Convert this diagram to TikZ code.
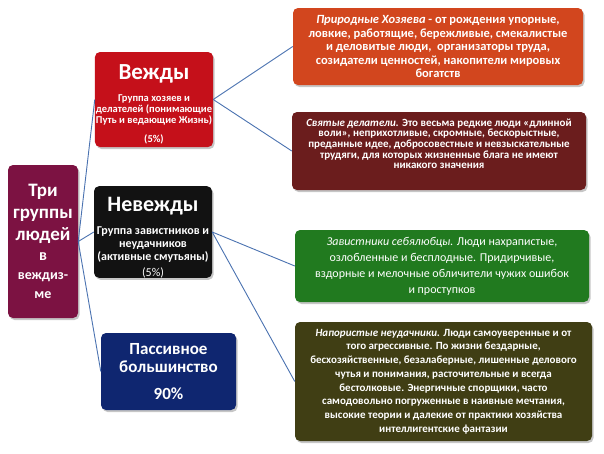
\documentclass[tikz,border=0pt]{standalone}
\usepackage{fontspec}
\setmainfont{Carlito}
\usetikzlibrary{positioning,shadows}
\definecolor{rootred}{HTML}{7C1242}
\definecolor{vezred}{HTML}{C5101A}
\definecolor{nevblack}{HTML}{121212}
\definecolor{passblue}{HTML}{0F2670}
\definecolor{descorange}{HTML}{D2461E}
\definecolor{descbrown}{HTML}{6B1D1D}
\definecolor{descgreen}{HTML}{217A1F}
\definecolor{descolive}{HTML}{403E14}
\definecolor{linkblue}{HTML}{4A72B0}
\tikzset{
  grparr/.style={draw=linkblue, line width=0.9pt},
  grpnode/.style={rounded corners=5pt, align=center, inner sep=1pt, text=white,
    drop shadow={opacity=0.45, shadow xshift=1.5pt, shadow yshift=-2pt}},
}

\begin{document}
\begin{tikzpicture}[
  x=1pt, y=-1pt,
  descbox/.style={grpnode, font=\bfseries\fontsize{11}{13.2}\selectfont},
]
  \useasboundingbox (0,0) rectangle (604,453);

  % left column
  \node[grpnode, fill=rootred, minimum width=70pt, minimum height=153pt,
    font=\bfseries\fontsize{14}{19}\selectfont] (root) at (43,241.5)
    {{\fontsize{19}{22}\selectfont Три}\\[3pt]{\fontsize{19}{22}\selectfont группы}\\[3pt]{\fontsize{19}{22}\selectfont людей}\\[1pt]{\fontsize{16}{19}\selectfont в}\\веждиз-\\ме};

  % middle column
  \node[grpnode, fill=vezred, minimum width=118pt, minimum height=95pt,
    font=\bfseries\fontsize{10.5}{11}\selectfont] (vez) at (154,99.5)
    {{\fontsize{23}{26}\selectfont\rule{0pt}{24pt}Вежды}\\[11pt]Группа хозяев и\\делателей (понимающие\\Путь и ведающие Жизнь)\\[8pt](5\%)};
  \node[grpnode, fill=nevblack, minimum width=118pt, minimum height=90pt, inner sep=0pt,
    font=\bfseries\fontsize{12}{13}\selectfont] (nev) at (153,232)
    {{\fontsize{22}{25}\selectfont\rule{0pt}{25pt}Невежды}\\[10pt]Группа завистников и\\неудачников\\(активные смутьяны)\\[3pt]{\mdseries (5\%)}};
  \node[grpnode, fill=passblue, minimum width=135pt, minimum height=77pt,
    font=\bfseries\fontsize{17}{18}\selectfont] (pass) at (168.5,371.5)
    {Пассивное\\большинство\\[9pt]90\%};

  % right column
  \node[descbox, fill=descorange, minimum width=290pt, minimum height=77pt,
    font=\bfseries\fontsize{12.5}{13.5}\selectfont] (hoz) at (438,46.5)
    {\textit{Природные Хозяева} - от рождения упорные,\\ловкие, работящие, бережливые, смекалистые\\и деловитые люди, \ организаторы труда,\\созидатели ценностей, накопители мировых\\богатств};
  \node[descbox, fill=descbrown, minimum width=294pt, minimum height=78pt,
    font=\bfseries\fontsize{11}{10.7}\selectfont] (svy) at (439,151)
    {\textit{Святые делатели.} Это весьма редкие люди «длинной\\воли», неприхотливые, скромные, бескорыстные,\\преданные идее, добросовестные и невзыскательные\\трудяги, для которых жизненные блага не имеют\\никакого значения\\[4pt]~};
  \node[descbox, fill=descgreen, minimum width=294pt, minimum height=72pt,
    font=\fontsize{12}{16}\selectfont] (zav) at (442,266)
    {\textit{Завистники себялюбцы.} Люди нахрапистые,\\озлобленные и бесплодные. Придирчивые,\\вздорные и мелочные обличители чужих ошибок\\и проступков};
  \node[descbox, fill=descolive, minimum width=297pt, minimum height=119pt,
    font=\bfseries\fontsize{11}{13.7}\selectfont] (nap) at (443.5,381.5)
    {\textit{Напористые неудачники.} Люди самоуверенные и от\\того агрессивные. По жизни бездарные,\\бесхозяйственные, безалаберные, лишенные делового\\чутья и понимания, расточительные и всегда\\бестолковые. Энергичные спорщики, часто\\самодовольно погруженные в наивные мечтания,\\высокие теории и далекие от практики хозяйства\\интеллигентские фантазии};

  % connectors
  \draw[grparr] (root.east) -- (vez.west);
  \draw[grparr] (root.east) -- (nev.west);
  \draw[grparr] (root.east) -- (pass.west);
  \draw[grparr] (vez.east) -- (hoz.west);
  \draw[grparr] (vez.east) -- (svy.west);
  \draw[grparr] (nev.east) -- (zav.west);
  \draw[grparr] (nev.east) -- (nap.west);
\end{tikzpicture}
\end{document}
